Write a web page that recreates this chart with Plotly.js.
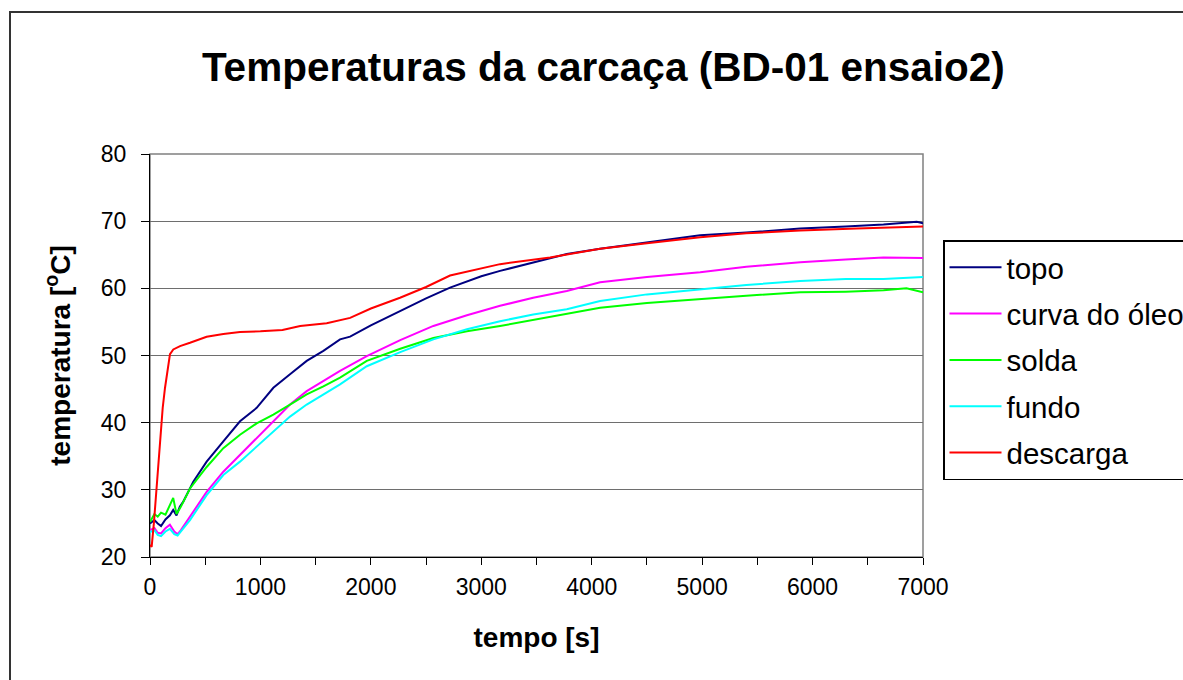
<!DOCTYPE html>
<html>
<head>
<meta charset="utf-8">
<script src="https://cdn.plot.ly/plotly-3.0.1.min.js"></script>
<style>
  html, body { margin: 0; padding: 0; background: #fff; }
  #wrap { position: relative; width: 1183px; height: 680px; overflow: hidden; }
  #chart { width: 1183px; height: 680px; }
  #frame { position: absolute; left: 9px; top: 11px; width: 1300px; height: 800px;
           border-left: 2px solid #333; border-top: 2px solid #333; pointer-events: none; }
</style>
</head>
<body>
<div id="wrap">
  <div id="chart"></div>
  <div id="frame"></div>
</div>
<script>
// Series names
const seriesNames = ["topo", "curva do óleo", "solda", "fundo", "descarga"];

// topo
const tTopo = [0, 40, 70, 100, 140, 180, 210, 240, 270, 300, 392, 513, 664, 815, 966, 1117, 1268, 1419, 1570, 1721, 1812, 2000, 2264, 2500, 2717, 3000, 3170, 3472, 3774, 4076, 4500, 4982, 5400, 5888, 6300, 6642, 6944, 7000];
const topo  = [25.0, 25.5, 25.0, 24.6, 25.6, 26.2, 27.0, 26.2, 27.5, 28.2, 31.2, 34.2, 37.2, 40.2, 42.2, 45.2, 47.2, 49.2, 50.7, 52.4, 52.8, 54.5, 56.6, 58.5, 60.1, 61.8, 62.6, 63.9, 65.1, 65.9, 66.8, 67.9, 68.3, 68.9, 69.2, 69.5, 69.9, 69.7];

// curva do óleo
const tCurva = [0, 40, 70, 100, 140, 180, 220, 250, 280, 362, 513, 664, 815, 966, 1117, 1268, 1419, 1570, 1721, 1963, 2266, 2566, 2870, 3170, 3470, 3774, 4076, 4500, 4982, 5400, 5888, 6300, 6642, 7000];
const curva  = [24.0, 24.3, 23.6, 23.5, 24.3, 24.8, 23.8, 23.4, 24.0, 26.0, 29.7, 32.7, 35.2, 37.7, 40.2, 42.7, 44.7, 46.2, 47.7, 49.9, 52.3, 54.4, 56.0, 57.4, 58.6, 59.6, 60.9, 61.7, 62.4, 63.2, 63.9, 64.3, 64.6, 64.5];

// solda
const tSolda = [0, 40, 70, 100, 140, 180, 210, 240, 280, 362, 513, 664, 815, 966, 1117, 1268, 1419, 1570, 1721, 1963, 2266, 2566, 2870, 3170, 3470, 3774, 4076, 4500, 4982, 5400, 5888, 6300, 6642, 6850, 7000];
const solda  = [25.2, 26.4, 26.0, 26.6, 26.3, 27.7, 28.8, 26.4, 27.5, 30.2, 33.4, 36.2, 38.2, 39.9, 41.2, 42.7, 44.2, 45.4, 46.7, 49.2, 51.0, 52.6, 53.6, 54.4, 55.3, 56.2, 57.1, 57.8, 58.4, 58.9, 59.4, 59.5, 59.7, 60.0, 59.4];

// fundo
const tFundo = [0, 40, 70, 100, 140, 180, 220, 250, 280, 362, 513, 664, 815, 966, 1117, 1268, 1419, 1570, 1721, 1963, 2266, 2566, 2870, 3170, 3470, 3774, 4076, 4500, 4982, 5400, 5888, 6300, 6642, 7000];
const fundo  = [23.7, 24.0, 23.3, 23.1, 23.8, 24.2, 23.4, 23.2, 23.8, 25.5, 29.2, 32.2, 34.2, 36.4, 38.7, 40.9, 42.7, 44.2, 45.7, 48.4, 50.5, 52.4, 53.9, 55.1, 56.1, 56.9, 58.1, 59.1, 59.9, 60.5, 61.1, 61.4, 61.4, 61.7];

// descarga
const tDescarga = [0, 15, 36, 54, 75, 97, 115, 136, 157, 181, 211, 272, 362, 513, 664, 815, 1000, 1200, 1360, 1600, 1812, 2000, 2264, 2500, 2717, 3000, 3170, 3623, 4076, 4500, 4982, 5400, 5888, 6400, 7000];
const descarga  = [21.8, 21.5, 25.2, 29.2, 33.7, 38.7, 42.2, 45.2, 47.7, 50.2, 50.9, 51.4, 51.9, 52.8, 53.2, 53.5, 53.6, 53.8, 54.4, 54.8, 55.6, 57.0, 58.6, 60.2, 61.9, 63.0, 63.6, 64.6, 65.9, 66.7, 67.6, 68.2, 68.6, 68.9, 69.2];

// Axis ticks
const xTicks = [0, 1000, 2000, 3000, 4000, 5000, 6000, 7000];
const yTicks = [20, 30, 40, 50, 60, 70, 80];

const colors = ["#000080", "#FF00FF", "#00FF00", "#00FFFF", "#FF0000"];
const xs = [tTopo, tCurva, tSolda, tFundo, tDescarga];
const ys = [topo, curva, solda, fundo, descarga];

const traces = seriesNames.map((n, i) => ({
  type: "scatter", mode: "lines", name: n, x: xs[i], y: ys[i],
  line: { color: colors[i], width: 2 }, legendgroup: "g" + i
}));

const font = "Liberation Sans, Arial, sans-serif";

const layout = {
  width: 1183, height: 680,
  paper_bgcolor: "#fff", plot_bgcolor: "#fff",
  margin: { l: 150, r: 260, t: 154, b: 123, autoexpand: false },
  font: { family: font, color: "#000" },
  title: { text: "<b>Temperaturas da carcaça (BD-01 ensaio2)</b>", font: { size: 40.5, family: font, color: "#000" },
           x: 0.51, xref: "container", xanchor: "center", y: 1 - 67/680, yref: "container", yanchor: "middle" },
  xaxis: {
    range: [0, 7000], tickvals: xTicks, ticktext: xTicks.map(String),
    ticks: "outside", ticklen: 7, tickcolor: "#000", tickwidth: 1,
    minor: { dtick: 500, tick0: 0, ticks: "outside", ticklen: 7, tickcolor: "#000", showgrid: false },
    showline: true, linecolor: "#000", linewidth: 1, showgrid: false, zeroline: false,
    tickfont: { size: 23, family: font, color: "#000" }, ticklabelstandoff: 2,
    title: { text: "<b>tempo [s]</b>", font: { size: 28, family: font, color: "#000" }, standoff: 28 }
  },
  yaxis: {
    range: [20, 80], tickvals: yTicks, ticktext: yTicks.map(String),
    ticks: "outside", ticklen: 8, tickcolor: "#000", tickwidth: 1,
    showline: true, linecolor: "#000", linewidth: 1,
    showgrid: true, gridcolor: "#6e6e6e", gridwidth: 1, zeroline: false,
    tickfont: { size: 23, family: font, color: "#000" }, ticklabelstandoff: 10,
    title: { text: "<b>temperatura [<sup>o</sup>C]</b>", font: { size: 28, family: font, color: "#000" }, standoff: 22 }
  },
  shapes: [{ type: "rect", xref: "paper", yref: "paper", x0: 0, x1: 1, y0: 0, y1: 1,
             line: { color: "#808080", width: 1.5 }, layer: "below" }],
  showlegend: true,
  legend: {
    x: (943 - 150) / 773, xanchor: "left", y: (557 - 240) / 403, yanchor: "top",
    bgcolor: "#fff", bordercolor: "#000", borderwidth: 1.5,
    font: { size: 29.5, family: font, color: "#000" },
    traceorder: "grouped", tracegroupgap: 5, itemwidth: 52
  }
};

Plotly.newPlot("chart", traces, layout, { displayModeBar: false, staticPlot: true });
</script>
</body>
</html>
